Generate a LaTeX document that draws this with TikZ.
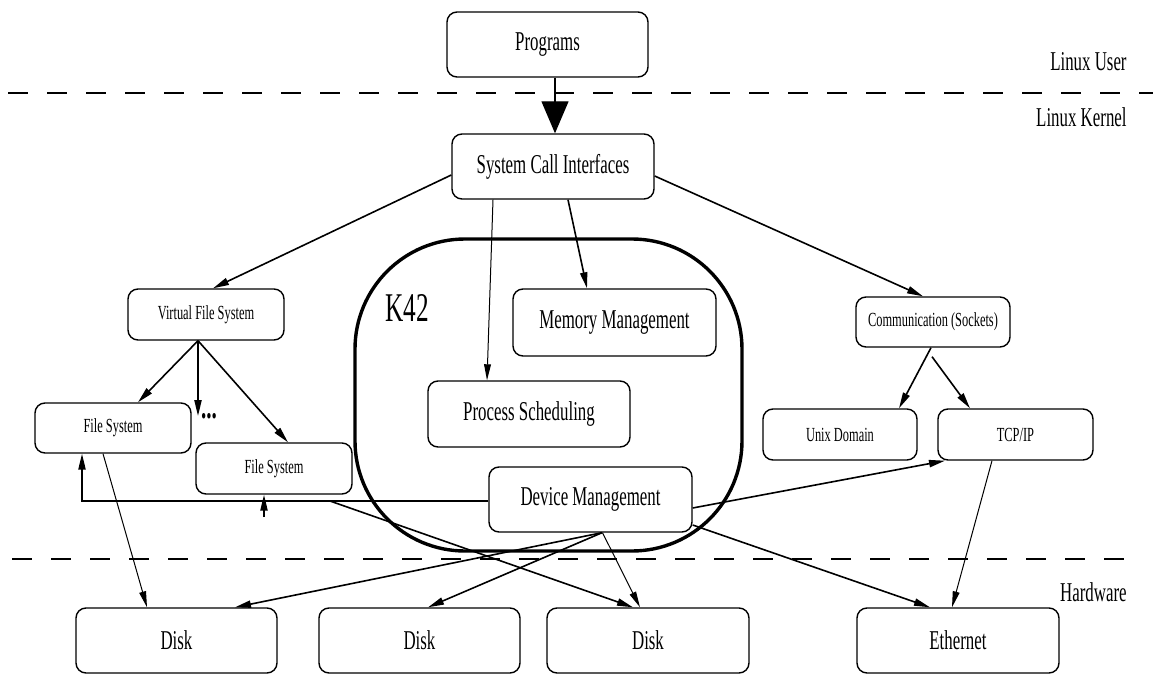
\documentclass[tikz,border=0pt]{standalone}
\usepackage{fontspec}
\setmainfont{Liberation Serif}[FakeStretch=0.62]
\usetikzlibrary{arrows.meta}
\begin{document}
\begin{tikzpicture}[x=0.5pt,y=-0.5pt,
  box/.style={draw,line width=0.7pt,rounded corners=5pt,inner sep=0pt,
    font=\fontsize{13.6}{15}\selectfont},
  sbox/.style={box,font=\fontsize{10}{12}\selectfont},
  arr/.style={line width=0.8pt,-{Triangle[length=8pt,width=3.6pt]}},
  thinarr/.style={line width=0.5pt,-{Triangle[length=8pt,width=3.4pt]}},
  bigarr/.style={line width=0.6pt,-{Triangle[length=16pt,width=13.5pt]}},
  sep/.style={line width=1pt,dash pattern=on 10pt off 9.5pt},
  lbl/.style={anchor=east,inner sep=0pt,font=\fontsize{13.6}{15}\selectfont}]
\useasboundingbox (0,0) rectangle (1153,675);
% separators
\draw[sep] (8,93) -- (1153,93);
\draw[sep] (12,559) -- (1127,559);
\node[lbl] (lu) at (1127,62) {Linux User};
\node[lbl] (lk) at (1127,117) {Linux Kernel};
\node[lbl] (hw) at (1127,592) {Hardware};
% K42 region
\draw[line width=1.7pt,rounded corners=55pt] (355,239) rectangle (742,551);
\node[inner sep=0pt,font=\fontsize{20.4}{22}\selectfont] (k42) at (407,308) {K42};
% boxes
\node[box,minimum width=100.5pt,minimum height=32.5pt] (prog) at (547.5,44.5) {Programs};
\node[box,minimum width=101pt,minimum height=32.5pt] (sci) at (553,166.5) {System Call Interfaces};
\node[sbox,minimum width=78pt,minimum height=25.5pt] (vfs) at (206,314.5) {Virtual File System};
\node[sbox,minimum width=78pt,minimum height=25pt] (fs1) at (113,428) {File System};
\node[sbox,minimum width=78pt,minimum height=25.5pt] (fs2) at (274,468.5) {File System};
\node[box,minimum width=101.5pt,minimum height=33.5pt] (mem) at (614.5,322.5) {Memory Management};
\node[box,minimum width=101pt,minimum height=33pt] (proc) at (529,414) {Process Scheduling};
\node[box,minimum width=101.5pt,minimum height=32.5pt] (dev) at (590.5,499.5) {Device Management};
\node[sbox,minimum width=77pt,minimum height=25pt] (comm) at (933,322) {Communication (Sockets)};
\node[sbox,minimum width=77pt,minimum height=25.5pt] (unix) at (840,434.5) {Unix Domain};
\node[sbox,minimum width=77.5pt,minimum height=25.5pt] (tcp) at (1015.5,434.5) {TCP/IP};
\node[box,minimum width=100.5pt,minimum height=32.5pt] (disk1) at (176.5,640.5) {Disk};
\node[box,minimum width=100.5pt,minimum height=32.5pt] (disk2) at (419.5,640.5) {Disk};
\node[box,minimum width=101pt,minimum height=32.5pt] (disk3) at (648,640.5) {Disk};
\node[box,minimum width=101pt,minimum height=32.5pt] (eth) at (958,640.5) {Ethernet};
\node[inner sep=0pt,font=\fontsize{17}{18}\bfseries] (dots) at (209,416) {...};
% coordinates for free ends
\coordinate (vfsdot) at (198,416);
\coordinate (fs2tail) at (264,517);
\coordinate (cross) at (330,501);
% connectors
\draw[bigarr] ([xshift=3.75pt]prog.south) -- ([xshift=1pt]sci.north);
\draw[arr] ([yshift=-4.25pt]sci.west) -- ([xshift=3.5pt]vfs.north);
\draw[thinarr] ([xshift=-30pt]sci.south) -- ([xshift=-21pt]proc.north);
\draw[arr] ([xshift=7.5pt]sci.south) -- ([xshift=-13.75pt]mem.north);
\draw[arr] ([yshift=-4.75pt]sci.east) -- ([xshift=-5pt]comm.north);
\draw[arr] ([xshift=-4pt]vfs.south) -- ([xshift=12.5pt]fs1.north);
\draw[arr] ([xshift=-4pt]vfs.south) -- (vfsdot);
\draw[arr] ([xshift=-4pt]vfs.south) -- ([xshift=7pt]fs2.north);
\draw[thinarr] ([xshift=-5pt]fs1.south) -- ([xshift=-14.75pt]disk1.north);
\draw[arr] ([yshift=-0.75pt]dev.west) -| ([xshift=-15.5pt]fs1.south);
\draw[arr] (fs2tail) -- ([xshift=-5pt]fs2.south);
\draw[arr] (cross) -- ([xshift=-7.5pt]disk3.north);
\draw[arr] ([xshift=5.75pt]dev.south) -- ([xshift=29.25pt]disk1.north);
\draw[arr] ([xshift=5.75pt]dev.south) -- ([xshift=4.25pt]disk2.north);
\draw[thinarr] ([xshift=6pt]dev.south) -- ([xshift=-4pt]disk3.north);
\draw[arr] ([yshift=-4.25pt]dev.east) -- ([xshift=-35.25pt]tcp.south);
\draw[arr] ([yshift=-12.75pt]dev.east) -- ([xshift=-14pt]eth.north);
\draw[thinarr] ([xshift=-11.75pt]tcp.south) -- ([xshift=-3pt]eth.north);
\draw[arr] ([xshift=-1pt]comm.south) -- ([xshift=29.5pt]unix.north);
\draw[arr] ([xshift=-0.5pt,yshift=-4.5pt]comm.south) -- ([xshift=-22.75pt]tcp.north);
\end{tikzpicture}
\end{document}
